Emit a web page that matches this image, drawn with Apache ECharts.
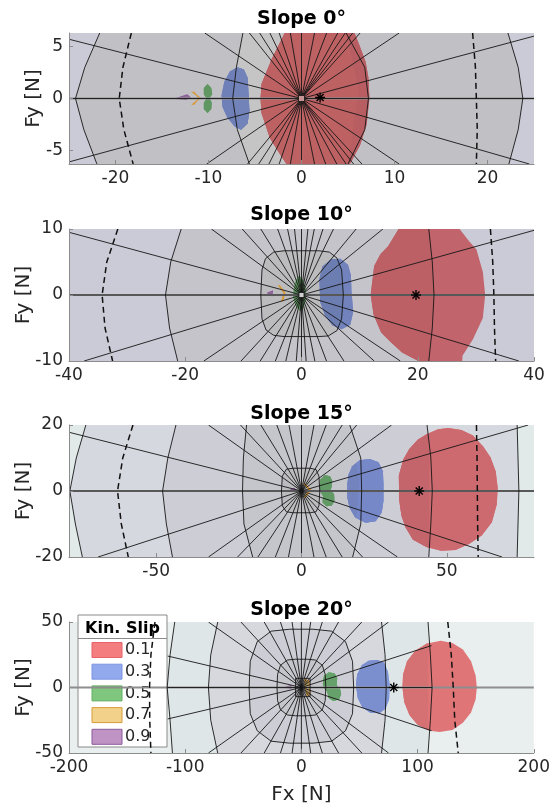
<!DOCTYPE html>
<html>
<head>
<meta charset="utf-8">
<script src="https://cdn.jsdelivr.net/npm/echarts@6/dist/echarts.min.js"></script>
<style>
  html, body { margin: 0; padding: 0; background: #ffffff; }
  #chart { width: 553px; height: 807px; }
</style>
</head>
<body>
<div id="chart"></div>
<script>
// ---------- axes ----------
const titles = ['Slope 0°', 'Slope 10°', 'Slope 15°', 'Slope 20°'];
const xLimits = [[-25, 25], [-40, 40], [-80, 80], [-200, 200]];
const yLimits = [[-6.3, 6.3], [-10, 10], [-20, 20], [-50, 50]];
const xTickValues = [[-20, -10, 0, 10, 20], [-40, -20, 0, 20, 40], [-50, 0, 50], [-200, -100, 0, 100, 200]];
const yTickValues = [[-5, 0, 5], [-10, 0, 10], [-20, 0, 20], [-50, 0, 50]];
const slipLevels = ['0.1', '0.3', '0.5', '0.7', '0.9'];
const hub = [0, 0];

// ---------- slope 0° ----------
const rings0 = [
  [[-21.2, 7.5], [-21.7, 6.3], [-23.3, 3], [-24.3, 0], [-23.4, -3], [-22, -6.3], [-21.6, -7.5],
   [21.7, -7.5], [22.3, -6.3], [23.3, -3], [23.8, 0], [23.3, 3], [22.2, 6.3], [21.9, 7.5]],
  [[-6.0, 7.5], [-6.3, 6.3], [-7.0, 3], [-7.4, 0], [-6.9, -3], [-5.6, -6.3], [-5.2, -7.5],
   [4.8, -7.5], [5.0, -6.3], [6.8, -3], [7.2, 0], [6.8, 3], [4.8, 6.3], [4.5, 7.5]]
];
const spokes0 = [
  [-25, 5.7], [-10.4, 6.3], [-5.6, 6.3], [-4.5, 6.3], [-3.4, 6.3], [-2.4, 6.3], [-1.2, 6.3], [0, 6.3],
  [1.4, 6.3], [2.7, 6.3], [3.9, 6.3], [4.7, 6.3], [5.5, 6.3], [6.3, 6.3], [10.5, 6.3], [25, 6.0],
  [-25, 0], [25, 0],
  [-25, -6.1], [-10.2, -6.3], [-5.8, -6.3], [-4.6, -6.3], [-3.5, -6.3], [-2.4, -6.3], [-1.2, -6.3], [0, -6.3],
  [1.4, -6.3], [2.6, -6.3], [3.8, -6.3], [4.8, -6.3], [5.6, -6.3], [6.5, -6.3], [10.5, -6.3], [24.5, -6.3]
];
const limits0 = [
  [[-18.3, 6.3], [-19.2, 3], [-19.6, 0], [-19.1, -3], [-18.1, -6.3]],
  [[18.4, 6.3], [18.7, 3], [18.8, 0], [18.9, -3], [18.8, -6.3]]
];
const slip0 = [
  [[-1.6, 7.5], [-1.8, 6.3], [-3.2, 3.8], [-4.3, 1.4], [-4.4, 0], [-4.3, -1.4], [-3.4, -3.8], [-2.2, -5.5],
   [-1.6, -6.3], [-1.2, -7.5], [5, -7.5], [5.2, -6.3], [6.3, -4.5], [7.0, -2.5], [7.3, 0], [7.2, 2],
   [6.9, 3.5], [6.2, 5.2], [5.7, 6.3], [5.4, 7.5]],
  [[-8.6, 0.3], [-8.3, 1.6], [-7.7, 2.6], [-6.9, 3.0], [-6.2, 2.8], [-5.8, 2.0], [-5.7, 0.5], [-5.6, -1.2],
   [-5.8, -2.4], [-6.5, -3.0], [-7.2, -2.7], [-8.0, -1.8], [-8.5, -0.8]],
  [[-10.1, 1.4], [-9.7, 1.0], [-9.6, 0.4], [-9.9, 0.05], [-9.65, -0.4], [-9.7, -1.0], [-10.1, -1.4],
   [-10.5, -1.0], [-10.5, -0.4], [-10.2, 0], [-10.5, 0.4], [-10.5, 1.0]],
  [[-11.7, 0.6], [-10.9, 0.05], [-11.7, -0.55], [-11.55, -0.55], [-11.05, 0.05], [-11.55, 0.6]],
  [[-13.5, 0.0], [-12.3, 0.35], [-12.0, 0.1], [-12.4, -0.1]]
];

// ---------- slope 10° ----------
const rings1 = [
  [[-20.5, 11], [-20.7, 10], [-22.5, 5], [-23.4, 0], [-22.7, -5], [-21.3, -10], [-21, -11],
   [21.8, -11], [21.9, -10], [22.5, -5], [22.8, 0], [22.5, 5], [21.9, 10], [21.7, 11]],
  [[-7.0, 0], [-6.8, 3.8], [-6.2, 5.5], [-4.8, 6.5], [-3, 6.7], [3, 6.7], [4.8, 6.5], [6.1, 5.6], [6.9, 3.8],
   [7.2, 0], [6.9, -3.6], [6.1, -5.4], [4.6, -6.2], [3, -6.3], [-3, -6.3], [-4.8, -6.1], [-6.1, -5.3], [-6.8, -3.6]]
];
const spokes1 = [
  [-40, 9.5], [-15.5, 10], [-10.2, 10], [-7.0, 10], [-4.1, 10], [-2.4, 10], [-1.2, 10], [0, 10],
  [1.1, 10], [2.2, 10], [3.7, 10], [5.5, 10], [9.4, 10], [14.0, 10], [40, 9.8],
  [-40, 0], [40, 0],
  [-37.4, -10], [-16.8, -10], [-10.4, -10], [-7.1, -10], [-4.5, -10], [-2.7, -10], [-0.9, -10], [0, -10],
  [0.8, -10], [2.3, -10], [4.3, -10], [7.3, -10], [12.5, -10], [17, -10], [37.4, -10]
];
const limits1 = [
  [[-31.6, 10], [-33.5, 5], [-34.3, 0], [-33.8, -5], [-32.5, -10]],
  [[32.5, 10], [32.9, 5], [33.1, 0], [33.2, -5], [33.4, -10]]
];
const slip1 = [
  [[11.9, 0], [12.5, 4.4], [13.6, 6.2], [14.9, 7.4], [16.7, 10], [17.5, 11], [27, 11], [27.2, 10],
   [28.8, 8.2], [30.1, 6.9], [31.2, 3.5], [31.6, 0], [31.2, -3.5], [29.5, -6.7], [27.7, -9.2], [27.6, -11],
   [20, -11], [20.1, -10], [17.3, -8.7], [15.2, -7.0], [13.7, -5.7], [12.4, -3]],
  [[3.1, 2.5], [3.6, 4.3], [5.1, 5.4], [6.7, 5.5], [8.0, 4.6], [8.5, 3.0], [8.6, 0.5], [8.9, -2.5],
   [8.4, -4.5], [6.9, -5.2], [5.3, -4.6], [4.1, -3.2], [3.2, -1.0]],
  [[-0.4, 2.9], [0.3, 2.2], [0.7, 0.8], [0.7, -0.8], [0.3, -2.0], [-0.3, -2.4], [-1.0, -1.6],
   [-1.4, -0.3], [-1.3, 1.0], [-0.9, 2.3]],
  [[-3.9, 1.4], [-3.0, 0.3], [-3.4, -0.9], [-3.25, -0.9], [-2.85, 0.3], [-3.75, 1.4]],
  [[-5.8, 0.3], [-5.0, 0.6], [-5.1, -0.1]]
];

// ---------- slope 15° ----------
const rings2 = [
  [[-74, 22], [-74.2, 20], [-77.5, 10], [-79.7, 0], [-77.8, -10], [-75.4, -20], [-75, -22],
   [74.2, -22], [74.2, -20], [74.5, -10], [74.8, 0], [74.5, 10], [74.2, 20], [74, 22]],
  [[-43, 22], [-43.2, 20], [-46, 10], [-47.8, 0], [-46.5, -10], [-44.4, -20], [-44, -22],
   [43.8, -22], [43.8, -20], [44.5, -10], [45, 0], [44.5, 10], [43.2, 20], [43, 22]],
  [[-18.5, 22], [-18.9, 20], [-20, 10], [-20.3, 0], [-19.8, -10], [-16.8, -20], [-16.4, -22],
   [17.4, -22], [17.6, -20], [20.4, -10], [20.7, 0], [20.4, 10], [16.6, 20], [16.2, 22]],
  [[-6.9, 0], [-6.6, 4.5], [-5.2, 6.6], [-3, 6.9], [3, 6.9], [5, 6.5], [6.0, 4.5], [6.3, 0], [6.0, -4.5],
   [5, -6.3], [3, -6.6], [-3, -6.6], [-5.2, -6.3], [-6.6, -4.5]]
];
const spokes2 = [
  [-80, 17.8], [-32, 20], [-21, 20], [-14, 20], [-8.5, 20], [-4.3, 20], [0, 20], [4.3, 20], [8.5, 20],
  [14, 20], [19, 20], [31, 20], [78, 20],
  [-80, 0], [80, 0],
  [-70, -20], [-32, -20], [-22, -20], [-15, -20], [-9, -20], [-4.5, -20], [0, -20], [4.3, -20], [8.5, -20],
  [14, -20], [21, -20], [33, -20], [69, -20]
];
const limits2 = [
  [[-58, 20], [-61.5, 10], [-63.3, 0], [-62, -10], [-59.6, -20]],
  [[60.2, 20], [60.4, 10], [60.5, 0], [60.6, -10], [60.8, -20]]
];
const slip2 = [
  [[33.5, 4.6], [35, 9.5], [37.1, 12.7], [40, 15.5], [43.2, 17.3], [47, 18.7], [50.5, 19.1], [55, 18.5],
   [59, 16.8], [62.5, 13.5], [65, 10.2], [66.8, 6], [67.5, 1], [67.2, -4], [65.5, -9.5], [62, -13.5],
   [57.8, -16], [53, -17.9], [48, -18.1], [43, -17], [38.3, -14.7], [35.8, -11], [34.4, -7.5], [33.6, -2.5]],
  [[15.8, 2], [16.2, 5], [17.5, 7.5], [20, 9.3], [23.5, 9.7], [26.5, 8.7], [28, 6], [28.2, 2], [28.2, -3],
   [27.6, -6.5], [25.5, -9.2], [22, -9.6], [18.5, -8], [16.5, -5], [15.8, -2]],
  [[6.2, 1.0], [6.5, 3.5], [8, 4.8], [9.8, 4.5], [10.6, 3], [10.3, 1.2], [10, 0.2], [11.2, -1], [11.3, -3],
   [10.4, -4.4], [8.6, -4.6], [7.3, -3.5], [7.4, -1.5], [6.6, -0.3]],
  [[0.8, 2.2], [2.8, 0.3], [1.0, -1.8], [1.4, -1.8], [3.2, 0.3], [1.2, 2.2]],
  [[-4.5, 0], [-2.5, 0.8], [-2, 0.2]]
];

// ---------- slope 20° ----------
const rings3 = [
  [[-108, 55], [-109, 50], [-113, 25], [-115.5, 0], [-113, -25], [-111, -50], [-110, -55],
   [109, -55], [109, -50], [111, -25], [112.5, 0], [111, 25], [109, 50], [108, 55]],
  [[-70, 55], [-72, 50], [-78, 25], [-80, 0], [-78, -25], [-72, -50], [-70, -55],
   [68, -55], [69, -50], [72, -25], [73, 0], [72, 25], [69, 50], [68, 55]],
  [[-45, 0], [-44, 20], [-38, 35], [-26, 43], [-10, 44.5], [10, 44.5], [26, 43], [38, 35], [44, 20], [45, 0],
   [44, -20], [38, -33], [26, -41], [10, -42.5], [-10, -42.5], [-26, -41], [-38, -33], [-44, -20]],
  [[-21, 0], [-20.5, 10], [-18, 17], [-12, 21], [-5, 21.6], [5, 21.6], [12, 21], [18, 17], [20.5, 10], [21, 0],
   [20.5, -10], [18, -17], [12, -21], [5, -21.6], [-5, -21.6], [-12, -21], [-18, -17], [-20.5, -10]],
  [[-5, 7], [7.5, 7], [7.5, -7], [-5, -7]]
];
const spokes3 = [
  [-115, 24], [-80, 50], [-52, 50], [-32, 50], [-18, 50], [-8, 50], [0, 50], [8, 50], [18, 50],
  [32, 50], [52, 50], [75, 50], [112, 32],
  [-115.5, 0], [112.5, 0],
  [-115, -24], [-80, -50], [-52, -50], [-32, -50], [-18, -50], [-8, -50], [0, -50], [8, -50], [18, -50],
  [32, -50], [52, -50], [75, -50], [112, -33]
];
const limits3 = [
  [[-126, 50], [-129.5, 25], [-130.7, 0], [-130.5, -25], [-129.5, -50]],
  [[126, 50], [129, 25], [130.7, 0], [132, -25], [135, -50]]
];
const slip3 = [
  [[87, 0], [87.5, 10], [91, 20], [98, 28], [108, 33.5], [120, 35.6], [130, 34], [139, 29], [146, 20],
   [150, 9], [151, 0], [150, -9], [146, -19], [139, -27], [130, -32.5], [119, -34], [110, -33],
   [100, -28.5], [93, -21], [88.5, -11]],
  [[47, 2], [48, 10], [52, 17], [58, 20.5], [65, 20.9], [71, 19], [74.5, 12], [76, 2], [75.5, -9],
   [72.5, -16], [67, -19.6], [59, -19], [52.5, -15], [48.5, -8]],
  [[18.5, 3], [19.5, 9], [23.5, 11.5], [28.5, 10.8], [30.8, 7], [30.2, 2], [33.2, -1], [34.2, -5],
   [32.5, -9], [27.5, -10.3], [23.5, -8], [22.2, -3], [19.5, -0.5]],
  [[3, 6], [6.5, 5], [7.5, -5], [5, -6.5], [3.5, 0]],
  [[-14, 0], [-9, 1.5], [-9, -0.5]]
];

// operating point (asterisk) per slope
const operatingPoints = [[2, 0.1], [19.7, 0], [40.5, 0], [79.5, 0]];

// ---------- styling ----------
const plotBackgrounds = ['#cbcbd7', '#cbcbd7', '#e1e9e9', '#e9efef'];
const regionFills = [
  ['#c0c0c5', '#c5c5c6'],
  ['#c4c4ca', '#bcbcbf'],
  ['#d6d8df', '#cdcdd6', '#c5c5cc', '#bcbcc0'],
  ['#dfe6e7', '#d6d8de', '#cdcdd5', '#c5c5cc', '#bbbbc0']
];
const slipColors = ['#f47d7f', '#93a9ee', '#7fc77f', '#f2d28a', '#bf94c4'];
const slipEdges = ['#e86268', '#7d95e0', '#62b062', '#d89a3a', '#8c5a9c'];

const ringsAll = [rings0, rings1, rings2, rings3];
const spokesAll = [spokes0, spokes1, spokes2, spokes3];
const limitsAll = [limits0, limits1, limits2, limits3];
const slipAll = [slip0, slip1, slip2, slip3];

const gridTops = [33, 229, 425, 622];
const gridHeights = [131, 132, 132, 131];
const titleY = [19.5, 215.5, 414, 610.5];
const yNameGaps = [25, 35, 35, 35];
const FONT = '"DejaVu Sans", Verdana, sans-serif';
const TEXT = '#262626';

// ---------- helpers ----------
function rgb(hex) {
  return [1, 3, 5].map(i => parseInt(hex.slice(i, i + 2), 16));
}
// colour of a translucent slip patch seen through a mesh face (multiply)
function tint(patchHex, faceHex) {
  const a = rgb(patchHex), b = rgb(faceHex);
  return 'rgb(' + a.map((v, i) => Math.round(v * b[i] / 255)).join(',') + ')';
}
// part of a patch lying inside a (convex) mesh ring
function clipToRing(subject, ring) {
  let area = 0;
  for (let i = 0; i < ring.length; i++) {
    const a = ring[i], b = ring[(i + 1) % ring.length];
    area += a[0] * b[1] - b[0] * a[1];
  }
  const s = area > 0 ? 1 : -1;
  let out = subject;
  for (let i = 0; i < ring.length && out.length; i++) {
    const A = ring[i], B = ring[(i + 1) % ring.length];
    const side = p => s * ((B[0] - A[0]) * (p[1] - A[1]) - (B[1] - A[1]) * (p[0] - A[0]));
    const src = out;
    out = [];
    for (let j = 0; j < src.length; j++) {
      const P = src[j], Q = src[(j + 1) % src.length];
      const dp = side(P), dq = side(Q);
      if (dp >= 0) out.push(P);
      if ((dp >= 0) !== (dq >= 0)) {
        const t = dp / (dp - dq);
        out.push([P[0] + t * (Q[0] - P[0]), P[1] + t * (Q[1] - P[1])]);
      }
    }
  }
  return out;
}

function shapeSeries(k, shapes, kind, styleFor, z) {
  return {
    type: 'custom', xAxisIndex: k, yAxisIndex: k, clip: true, z: z, silent: true, animation: false,
    data: shapes.map((s, i) => [s[0][0], s[0][1], i]),
    renderItem: function (params, api) {
      const i = params.dataIndex;
      const pts = shapes[i].map(p => api.coord(p));
      return { type: kind, shape: { points: pts }, style: styleFor(i) };
    }
  };
}

const grids = [], xAxes = [], yAxes = [], series = [];
for (let k = 0; k < 4; k++) {
  grids.push({
    left: 69, width: 465, top: gridTops[k], height: gridHeights[k],
    show: true, backgroundColor: plotBackgrounds[k], borderWidth: 0
  });
  xAxes.push({
    type: 'value', gridIndex: k, min: xLimits[k][0], max: xLimits[k][1], z: 10,
    name: k === 3 ? 'Fx [N]' : '', nameLocation: 'middle', nameGap: 32, nameMoveOverlap: false,
    nameTextStyle: { fontSize: 20, fontFamily: FONT, color: TEXT },
    axisLine: { show: true, onZero: false, lineStyle: { color: '#8c8c8c', width: 1 } },
    axisTick: { show: true, inside: true, length: 4, customValues: xTickValues[k], lineStyle: { color: '#8c8c8c' } },
    axisLabel: { customValues: xTickValues[k], fontSize: 17, fontFamily: FONT, color: TEXT, margin: 6 },
    splitLine: { show: false }
  });
  yAxes.push({
    type: 'value', gridIndex: k, min: yLimits[k][0], max: yLimits[k][1], z: 10,
    name: 'Fy [N]', nameLocation: 'middle', nameGap: yNameGaps[k], nameMoveOverlap: false,
    nameTextStyle: { fontSize: 20, fontFamily: FONT, color: TEXT },
    axisLine: { show: true, onZero: false, lineStyle: { color: '#8c8c8c', width: 1 } },
    axisTick: { show: true, inside: true, length: 4, customValues: yTickValues[k], lineStyle: { color: '#8c8c8c' } },
    axisLabel: { customValues: yTickValues[k], fontSize: 17, fontFamily: FONT, color: TEXT, margin: 6 },
    splitLine: { show: false }
  });

  // mesh faces, outer to inner
  series.push(shapeSeries(k, ringsAll[k], 'polygon', i => ({ fill: regionFills[k][i], stroke: null }), 1));

  // slip patches, each piece tinted by the face it lies over
  const faces = [null].concat(ringsAll[k]);
  const faceColors = [plotBackgrounds[k]].concat(regionFills[k]);
  const pieces = [], pieceColors = [];
  slipAll[k].forEach((patch, si) => {
    faces.forEach((ring, fi) => {
      const part = ring ? clipToRing(patch, ring) : patch;
      if (part.length >= 3) {
        pieces.push(part);
        pieceColors.push(tint(slipColors[si], faceColors[fi]));
      }
    });
  });
  series.push(shapeSeries(k, pieces, 'polygon', i => ({ fill: pieceColors[i], stroke: null }), 2));
  // thin outlines for the small high-slip patches
  series.push(shapeSeries(k, slipAll[k].slice(3), 'polygon',
    i => ({ fill: null, stroke: slipEdges[i + 3], lineWidth: 1.1 }), 2));

  // Fy = 0 reference
  series.push(shapeSeries(k, [[[xLimits[k][0], 0], [xLimits[k][1], 0]]], 'polyline',
    () => ({ fill: null, stroke: '#8e8e8e', lineWidth: 1.8 }), 3));
  // mesh ring outlines
  series.push(shapeSeries(k, ringsAll[k], 'polygon', () => ({ fill: null, stroke: '#161616', lineWidth: 0.9 }), 4));
  // spokes from the hub
  series.push(shapeSeries(k, spokesAll[k].map(e => [hub, e]), 'polyline',
    () => ({ fill: null, stroke: '#161616', lineWidth: 0.9 }), 4));
  // dashed limit curves
  series.push(shapeSeries(k, limitsAll[k], 'polyline',
    () => ({ fill: null, stroke: '#111111', lineWidth: 1.5, lineDash: [6, 4] }), 4));
  // operating point asterisk
  series.push({
    type: 'custom', xAxisIndex: k, yAxisIndex: k, clip: true, z: 5, silent: true, animation: false,
    data: [operatingPoints[k]],
    renderItem: function (params, api) {
      const c = api.coord([api.value(0), api.value(1)]);
      const r = 5, d = r * 0.7071;
      const st = { stroke: '#000', lineWidth: 1.4 };
      return {
        type: 'group', children: [
          { type: 'line', shape: { x1: c[0] - r, y1: c[1], x2: c[0] + r, y2: c[1] }, style: st },
          { type: 'line', shape: { x1: c[0], y1: c[1] - r, x2: c[0], y2: c[1] + r }, style: st },
          { type: 'line', shape: { x1: c[0] - d, y1: c[1] - d, x2: c[0] + d, y2: c[1] + d }, style: st },
          { type: 'line', shape: { x1: c[0] - d, y1: c[1] + d, x2: c[0] + d, y2: c[1] - d }, style: st }
        ]
      };
    }
  });
  if (k < 2) {
    series.push({
      type: 'scatter', xAxisIndex: k, yAxisIndex: k, z: 6, silent: true, animation: false,
      data: [hub], symbol: 'rect', symbolSize: k === 0 ? 6 : 5,
      itemStyle: { color: k === 0 ? '#f2b4b4' : '#ffffff', borderColor: '#111', borderWidth: 1 }
    });
  }
}

// titles and slip legend
const graphics = titles.map((t, k) => ({
  type: 'text', x: 301.5, y: titleY[k], z: 50,
  style: { text: t, font: 'bold 19px ' + FONT, fill: '#000', align: 'center', verticalAlign: 'middle',
           textAlign: 'center', textVerticalAlign: 'middle' }
}));
const legendChildren = [
  { type: 'rect', shape: { x: 0, y: 0, width: 89, height: 132 }, style: { fill: '#ffffff', stroke: '#8a8a8a', lineWidth: 1 } },
  { type: 'text', x: 44.5, y: 14, style: { text: 'Kin. Slip', font: 'bold 16px ' + FONT, fill: '#000',
      align: 'center', verticalAlign: 'middle', textAlign: 'center', textVerticalAlign: 'middle' } },
  { type: 'line', shape: { x1: 0, y1: 23.5, x2: 89, y2: 23.5 }, style: { stroke: '#8a8a8a', lineWidth: 1 } }
];
slipLevels.forEach((lv, i) => {
  const cy = 35 + i * 21.7;
  legendChildren.push({ type: 'rect', shape: { x: 14, y: cy - 7.5, width: 30, height: 15 },
    style: { fill: slipColors[i], stroke: slipEdges[i], lineWidth: 1 } });
  legendChildren.push({ type: 'text', x: 47, y: cy, style: { text: lv, font: '16px ' + FONT, fill: TEXT,
    align: 'left', verticalAlign: 'middle', textAlign: 'left', textVerticalAlign: 'middle' } });
});
graphics.push({ type: 'group', x: 78, y: 615, z: 100, children: legendChildren });

const chart = echarts.init(document.getElementById('chart'), null, { renderer: 'canvas', width: 553, height: 807 });
chart.setOption({
  backgroundColor: '#ffffff',
  animation: false,
  grid: grids,
  xAxis: xAxes,
  yAxis: yAxes,
  series: series,
  graphic: graphics
});
</script>
</body>
</html>
